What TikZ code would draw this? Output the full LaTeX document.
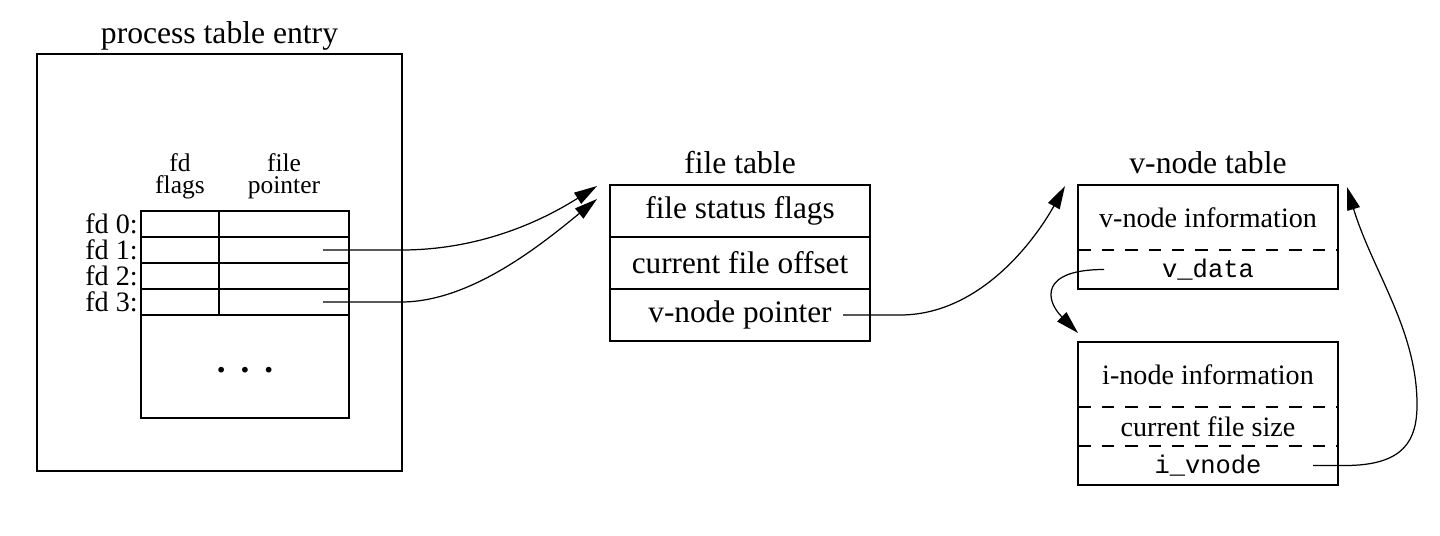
\documentclass[tikz,border=0pt]{standalone}
\usepackage{fontspec}
\setmainfont{Liberation Serif}
\setmonofont{Liberation Mono}
\usetikzlibrary{arrows.meta,positioning}
\newcommand{\px}{0.02cm}
\tikzset{
  cell/.style={draw, line width=0.8pt, inner sep=0pt, outer sep=0pt},
  bigcell/.style={cell, minimum width=260*\px, minimum height=52*\px, font=\fontsize{17.8}{20}\selectfont},
  tabrow/.style={inner sep=0pt, outer sep=0pt, minimum width=260*\px},
  heading/.style={inner sep=0pt, align=center},
  title/.style={inner sep=0pt, font=\fontsize{18}{20}\selectfont},
  colhead/.style={inner sep=0pt, align=center, font=\fontsize{14.5}{12.5}\selectfont},
  divider/.style={line width=0.8pt, dash pattern=on 0.25cm off 0.22cm},
  ptr/.style={-{Triangle[length=0.46cm, width=0.26cm]}, line width=0.7pt}
}
\begin{document}
\begin{tikzpicture}[x=\px, y=-\px, font=\fontsize{16}{18}\selectfont]
  \useasboundingbox (0,0) rectangle (1440,535);

  % process table entry
  \node[cell, minimum width=365*\px, minimum height=417*\px] (proc) at (219.5,262.5) {};
  \node[title, above=0.06cm of proc] (proclbl) {process table entry};
  \foreach \i in {0,...,3} {
    \node[cell, minimum width=78*\px, minimum height=26*\px] (flag\i) at (180,224+26*\i) {};
    \node[cell, minimum width=130*\px, minimum height=26*\px] (fp\i) at (284,224+26*\i) {};
    \node[heading, left=3*\px of flag\i] (fdlbl\i) {fd \i:};
  }
  \node[cell, minimum width=208*\px, minimum height=103*\px] (rest) at (245,366.5) {};
  \node[heading, font=\fontsize{20}{20}\selectfont\bfseries] (dots) at ([yshift=-4*\px]rest.center) {.\hspace{0.3cm}.\hspace{0.3cm}.};
  \node[colhead, above=0.24cm of flag0] (flaghd) {fd\\flags};
  \node[colhead, above=0.24cm of fp0] (fphd) {file\\pointer};

  % file table
  \node[bigcell] (fstatus) at (740,211) {file status flags};
  \node[bigcell, below=0pt of fstatus] (foffset) {current file offset};
  \node[bigcell, below=0pt of foffset] (fvptr) {v-node pointer};
  \node[title, above=0.22cm of fstatus] (ftlbl) {file table};

  % v-node table
  \node[tabrow, minimum height=65*\px] (vinfo) at (1208,217.5) {v-node information};
  \node[tabrow, minimum height=39*\px, below=0pt of vinfo] (vdata) {\fontsize{14.5}{16}\selectfont\texttt{v\_data}};
  \draw[line width=0.8pt] (vinfo.north west) rectangle (vdata.south east);
  \draw[divider] (vinfo.south west) -- (vinfo.south east);
  \node[title, above=0.22cm of vinfo] (vtlbl) {v-node table};

  % i-node part
  \node[tabrow, minimum height=65*\px] (iinfo) at (1208,374.5) {i-node information};
  \node[tabrow, minimum height=39*\px, below=0pt of iinfo] (isize) {current file size};
  \node[tabrow, minimum height=39*\px, below=0pt of isize] (ivnode) {\fontsize{14.5}{16}\selectfont\texttt{i\_vnode}};
  \draw[line width=0.8pt] (iinfo.north west) rectangle (ivnode.south east);
  \draw[divider] (iinfo.south west) -- (iinfo.south east);
  \draw[divider] (isize.south west) -- (isize.south east);

  % pointers
  \coordinate (fp1tail) at ([xshift=-26*\px]fp1.east);
  \coordinate (fp3tail) at ([xshift=-26*\px]fp3.east);
  \coordinate (fvtail) at ([xshift=-27*\px]fvptr.east);
  \coordinate (vdtail) at ([xshift=26*\px]vdata.west);
  \coordinate (ivtail) at ([xshift=-25*\px]ivnode.east);
  \draw[ptr] (fp1tail) -- ++(78,0) .. controls +(75,0) and +(-60,38) .. ([shift={(-13,1)}]fstatus.north west);
  \draw[ptr] (fp3tail) -- ++(78,0) .. controls +(70,0) and +(-55,45) .. ([shift={(-13,14)}]fstatus.north west);
  \draw[ptr] (fvtail) -- ++(57,0) .. controls +(80,0) and +(-30,54) .. ([shift={(-13,1)}]vinfo.north west);
  \draw[ptr] (vdtail) .. controls +(-64,0) and +(-33,-33) .. ([shift={(0,-9)}]iinfo.north west);
  \draw[ptr] (ivtail) -- ++(32,0) .. controls +(60,0) and +(0,35) .. ++(72,-61)
    .. controls +(0,-75) and +(25,83) .. ([shift={(9,2)}]vinfo.north east);
\end{tikzpicture}
\end{document}
